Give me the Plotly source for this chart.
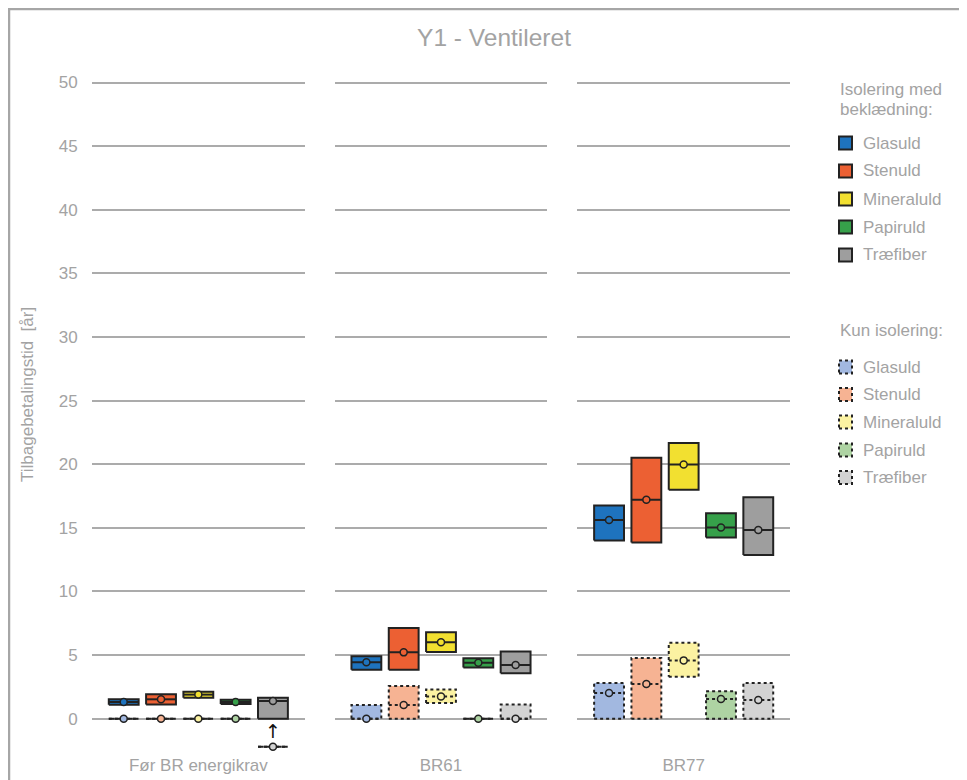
import plotly.graph_objects as go
from plotly.subplots import make_subplots

groups = ["Før BR energikrav", "BR61", "BR77"]
materials = ["Glasuld", "Stenuld", "Mineraluld", "Papiruld", "Træfiber"]

solid_colors = ["#1E73BE", "#EC6033", "#F2E030", "#36A04A", "#9E9E9E"]
light_colors = ["#A2B8E0", "#F6B393", "#FBF2A2", "#AED3A3", "#D3D3D3"]

# isolering med beklædning (low / mid / high per group)
solid_low = [[1.10, 1.12, 1.65, 1.15, 0.00],
             [3.85, 3.85, 5.24, 4.03, 3.56],
             [14.00, 13.84, 18.00, 14.23, 12.87]]
solid_mid = [[1.31, 1.52, 1.89, 1.31, 1.38],
             [4.43, 5.21, 6.00, 4.40, 4.22],
             [15.62, 17.20, 19.97, 15.02, 14.83]]
solid_high = [[1.52, 1.91, 2.12, 1.49, 1.65],
              [4.90, 7.13, 6.79, 4.74, 5.27],
              [16.75, 20.50, 21.67, 16.14, 17.40]]

# kun isolering
dashed_low = [[0, 0, 0, 0, -2.2],
              [0, 0, 1.23, 0, 0],
              [0, 0, 3.30, 0, 0]]
dashed_mid = [[0, 0, 0, 0, -2.2],
              [0, 1.08, 1.75, 0, 0],
              [2.02, 2.73, 4.58, 1.55, 1.47]]
dashed_high = [[0, 0, 0, 0, -2.2],
               [1.08, 2.57, 2.30, 0, 1.12],
               [2.80, 4.77, 5.97, 2.15, 2.80]]

TXT = "#A3A3A3"
GRID = "#ABABAB"
EDGE = "#222222"
FONT = "Liberation Sans, Arial, sans-serif"
W, H = 967, 780
OFF = 8  # page body margin
ML, MR, MT, MB = 92 - OFF, 185, 80 - OFF, 35
hw = 0.4

fig = make_subplots(rows=1, cols=3, shared_yaxes=True, horizontal_spacing=0.043)


def add_box(col, x, lo, mid, hi, fill, dash):
    fig.add_trace(go.Scatter(
        x=[x - hw, x + hw, x + hw, x - hw, x - hw], y=[lo, lo, hi, hi, lo],
        mode="lines", fill="toself", fillcolor=fill,
        line=dict(color=EDGE, width=2, dash=dash),
        showlegend=False, hoverinfo="skip"), row=1, col=col)
    fig.add_trace(go.Scatter(
        x=[x - hw, x + hw], y=[mid, mid], mode="lines",
        line=dict(color=EDGE, width=2, dash=dash),
        showlegend=False, hoverinfo="skip"), row=1, col=col)
    fig.add_trace(go.Scatter(
        x=[x], y=[mid], mode="markers",
        marker=dict(size=7, color=fill, line=dict(color=EDGE, width=1.5)),
        showlegend=False, hoverinfo="skip"), row=1, col=col)


for g in range(3):
    for i in range(5):
        add_box(g + 1, i, dashed_low[g][i], dashed_mid[g][i], dashed_high[g][i],
                light_colors[i], "dot")
    for i in range(5):
        add_box(g + 1, i, solid_low[g][i], solid_mid[g][i], solid_high[g][i],
                solid_colors[i], "solid")

# arrow for Træfiber, Før BR energikrav
fig.add_annotation(x=4, y=-1.0, xref="x", yref="y", text="↑", showarrow=False,
                   font=dict(size=19, color="#111111", family="DejaVu Sans"))

for c in range(1, 4):
    fig.update_xaxes(range=[-0.85, 4.85], tickvals=[2], ticktext=[groups[c - 1]],
                     showgrid=False, zeroline=False, showline=False, automargin=False,
                     ticks="", tickfont=dict(size=17, color=TXT), row=1, col=c)
    fig.update_yaxes(range=[-2.7, 50.2], tickvals=list(range(0, 55, 5)),
                     showgrid=True, gridcolor=GRID, gridwidth=1.5, automargin=False,
                     zeroline=False, showline=False, row=1, col=c)
fig.update_yaxes(ticks="outside", ticklen=10, tickcolor="rgba(0,0,0,0)",
                 tickfont=dict(size=17, color=TXT), row=1, col=1)

pw = W - ML - MR
ph = H - MT - MB


# helpers take pixel positions as seen in the final page
def px(x):
    return (x - OFF - ML) / pw


def py(y):
    return (H - MB - (y - OFF)) / ph


# legend drawn manually
solid_rows = [143, 171, 199, 227, 255]
dashed_rows = [367, 394.5, 422, 450, 477.5]
fig.add_annotation(x=px(838), y=py(90), xref="paper", yref="paper", text="Isolering med",
                   showarrow=False, xanchor="left", yanchor="middle",
                   font=dict(size=17, color=TXT))
fig.add_annotation(x=px(838), y=py(110), xref="paper", yref="paper", text="beklædning:",
                   showarrow=False, xanchor="left", yanchor="middle",
                   font=dict(size=17, color=TXT))
fig.add_annotation(x=px(838), y=py(330), xref="paper", yref="paper", text="Kun isolering:",
                   showarrow=False, xanchor="left", yanchor="middle",
                   font=dict(size=17, color=TXT))
for rows, cols, dash in [(solid_rows, solid_colors, "solid"), (dashed_rows, light_colors, "dot")]:
    for r, c, name in zip(rows, cols, materials):
        fig.add_shape(type="rect", xref="paper", yref="paper",
                      x0=px(839), x1=px(852), y0=py(r + 6.5), y1=py(r - 6.5),
                      fillcolor=c, line=dict(color=EDGE, width=2, dash=dash))
        fig.add_annotation(x=px(861), y=py(r), xref="paper", yref="paper", text=name,
                           showarrow=False, xanchor="left", yanchor="middle",
                           font=dict(size=17, color=TXT))

# y title
fig.add_annotation(x=px(27), y=py(395), xref="paper", yref="paper",
                   text="Tilbagebetalingstid\u00a0 [år]", textangle=-90, showarrow=False,
                   xanchor="center", yanchor="middle", font=dict(size=17, color=TXT))

# outer frame
fig.add_shape(type="rect", xref="paper", yref="paper",
              x0=px(9), x1=px(1000), y0=py(820), y1=py(9),
              line=dict(color="#A6A6A6", width=2.5), layer="below")

fig.update_layout(
    width=W, height=H,
    margin=dict(l=ML, r=MR, t=MT, b=MB, autoexpand=False),
    paper_bgcolor="white", plot_bgcolor="white",
    font=dict(family=FONT, color=TXT),
    title=dict(text="Y1 - Ventileret", x=(494 - OFF) / W, y=1 - (37 - OFF) / H,
               xref="container", yref="container", xanchor="center", yanchor="middle",
               font=dict(size=24.5, color=TXT)),
    showlegend=False,
)

fig.write_html("out.html")
